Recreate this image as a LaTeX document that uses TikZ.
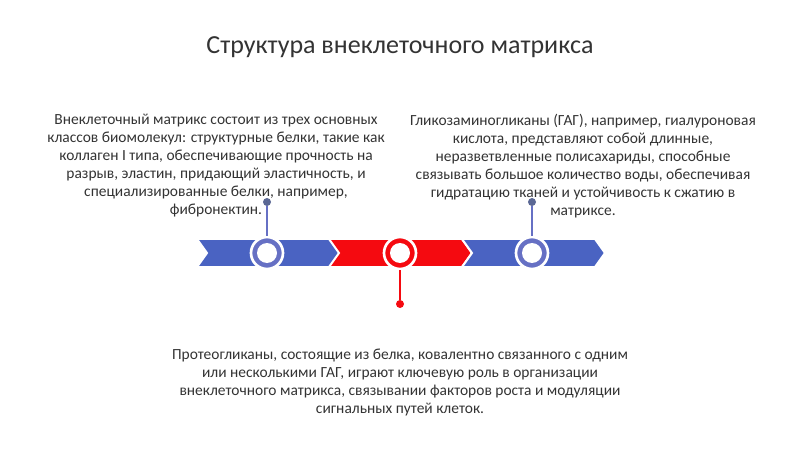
\documentclass[tikz,border=0pt]{standalone}
\usepackage{fontspec}
\setmainfont{Carlito}
\usetikzlibrary{positioning}
\definecolor{chevblue}{HTML}{4A63C2}
\definecolor{chevred}{HTML}{F50A10}
\definecolor{ringblue}{HTML}{6670C4}
\definecolor{dotblue}{HTML}{5B6894}
\definecolor{txtgray}{HTML}{333333}
\begin{document}
\begin{tikzpicture}[x=0.75pt,y=-0.75pt,
    chev/.style={draw=white,line width=1.5pt},
    ring/.style={circle,draw=white,line width=2pt,inner sep=0pt,minimum size=32pt*0.75},
    stem/.style={line width=1.2pt},
    dot/.style={circle,inner sep=0pt,minimum size=6pt},
    para/.style={align=center,text=txtgray,font=\fontsize{11.6}{13.5}\selectfont}]
\useasboundingbox (0,0) rectangle (800,449);
%
\node[font=\fontsize{19.5}{22}\selectfont,text=txtgray] (title) at (400,47) {Структура внеклеточного матрикса};
% chevrons
\foreach \x/\c in {197/chevblue,329/chevred,462/chevblue}
  \fill[\c,chev] (\x,239) -- (\x+133,239) -- (\x+143,253) -- (\x+133,267) -- (\x,267) -- (\x+10,253) -- cycle;
% rings
\node[ring,fill=ringblue] (R1) at (267,253) {};
\node[ring,fill=chevred] (R2) at (400,253) {};
\node[ring,fill=ringblue] (R3) at (532,253) {};
\foreach \r in {R1,R2,R3}
  \fill[white] (\r.center) circle (10);
% dots and stems
\node[dot,fill=dotblue] (D1) at (267,202) {};
\node[dot,fill=chevred] (D2) at (400,304) {};
\node[dot,fill=dotblue] (D3) at (532,202) {};
\draw[stem,ringblue] (D1) -- (R1.north);
\draw[stem,chevred] (R2.south) -- (D2);
\draw[stem,ringblue] (D3) -- (R3.north);
% texts
\node[para,anchor=north] (T1) at (216,109) {Внеклеточный матрикс состоит из трех основных\\классов биомолекул: структурные белки, такие как\\коллаген I типа, обеспечивающие прочность на\\разрыв, эластин, придающий эластичность, и\\специализированные белки, например,\\фибронектин.};
\node[para,anchor=north] (T3) at (583,109) {Гликозаминогликаны (ГАГ), например, гиалуроновая\\кислота, представляют собой длинные,\\неразветвленные полисахариды, способные\\связывать большое количество воды, обеспечивая\\гидратацию тканей и устойчивость к сжатию в\\матриксе.};
\node[para,anchor=north] (T2) at (400,344) {Протеогликаны, состоящие из белка, ковалентно связанного с одним\\или несколькими ГАГ, играют ключевую роль в организации\\внеклеточного матрикса, связывании факторов роста и модуляции\\сигнальных путей клеток.};
\end{tikzpicture}
\end{document}
